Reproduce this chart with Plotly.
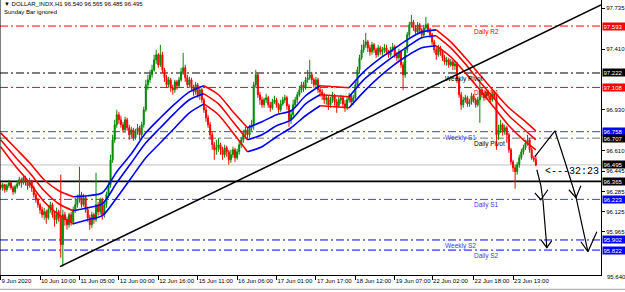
import plotly.graph_objects as go

# ---------------- data (H1 bars, DOLLAR_INDX) ----------------
first_open = 96.339
closes = [
96.315,96.339,96.299,96.331,96.354,96.315,96.283,96.323,96.346,96.378,
96.354,96.394,96.362,96.331,96.370,96.315,96.260,96.220,96.181,96.141,
96.102,96.125,96.078,96.141,96.181,96.102,96.062,96.125,96.078,95.865,
96.102,96.062,96.023,96.102,96.046,96.141,96.181,96.220,96.260,96.181,
96.236,96.141,96.078,96.023,96.102,96.062,96.181,96.125,96.220,96.102,
96.181,96.260,96.339,96.536,96.694,96.813,96.892,96.852,96.813,96.773,
96.852,96.789,96.734,96.773,96.710,96.757,96.789,96.734,96.813,96.931,
97.129,97.168,97.208,97.247,97.326,97.366,97.287,97.366,97.247,97.184,
97.129,97.168,97.105,97.089,97.152,97.121,97.168,97.231,97.263,97.184,
97.129,97.168,97.105,97.073,97.129,97.050,97.089,97.010,96.931,96.868,
96.813,96.734,96.655,96.615,96.631,96.655,96.615,96.576,96.631,96.599,
96.536,96.576,96.615,96.552,96.599,96.655,96.694,96.734,96.773,96.734,
96.789,96.813,97.129,97.208,97.050,97.010,96.971,97.010,97.026,96.971,
96.947,96.994,97.010,96.971,96.931,96.978,97.010,97.026,96.963,96.852,
96.892,96.971,97.010,97.050,97.089,97.129,97.105,97.168,97.184,97.208,
97.168,97.129,97.168,97.089,97.073,97.050,97.010,97.026,96.971,97.010,
97.042,96.994,96.963,97.010,97.026,96.978,96.947,97.010,97.042,96.994,
97.026,97.129,97.247,97.342,97.405,97.445,97.468,97.421,97.389,97.445,
97.405,97.366,97.421,97.389,97.405,97.421,97.389,97.366,97.405,97.429,
97.366,97.342,97.389,97.287,97.208,97.405,97.524,97.603,97.626,97.579,
97.547,97.603,97.563,97.524,97.579,97.603,97.563,97.524,97.468,97.405,
97.366,97.421,97.389,97.342,97.310,97.326,97.287,97.310,97.279,97.294,
97.168,97.050,96.971,97.010,97.026,96.978,96.994,97.042,97.010,96.971,
97.010,97.089,97.050,97.026,97.073,97.042,97.010,97.057,97.034,96.734,
96.773,96.813,96.757,96.789,96.734,96.615,96.520,96.473,96.441,96.497,
96.552,96.599,96.631,96.670,96.694,96.615,96.552,96.540,96.495]
highs = [
96.362,96.354,96.346,96.346,96.378,96.362,96.331,96.339,96.370,96.402,
96.394,96.418,96.410,96.378,96.394,96.378,96.331,96.275,96.236,96.196,
96.165,96.157,96.141,96.173,96.204,96.196,96.125,96.157,96.141,96.418,
96.141,96.125,96.086,96.117,96.125,96.165,96.236,96.260,96.481,96.283,
96.267,96.252,96.165,96.102,96.125,96.117,96.433,96.204,96.236,96.236,
96.196,96.283,96.362,96.576,96.734,96.852,96.931,96.915,96.884,96.836,
96.876,96.868,96.813,96.797,96.789,96.781,96.820,96.805,96.836,96.955,
97.168,97.208,97.247,97.287,97.366,97.405,97.381,97.445,97.389,97.263,
97.208,97.192,97.184,97.129,97.168,97.168,97.192,97.263,97.381,97.287,
97.208,97.192,97.184,97.129,97.152,97.144,97.113,97.105,97.026,96.955,
96.892,96.836,96.757,96.678,96.694,96.710,96.670,96.639,96.655,96.647,
96.615,96.615,96.639,96.631,96.623,96.678,96.718,96.773,96.797,96.797,
96.813,96.852,97.152,97.247,97.223,97.073,97.034,97.026,97.057,97.042,
96.994,97.018,97.042,97.026,96.986,97.010,97.034,97.050,97.042,96.978,
96.931,97.010,97.034,97.073,97.121,97.152,97.152,97.192,97.247,97.326,
97.231,97.184,97.192,97.184,97.121,97.097,97.065,97.050,97.042,97.034,
97.073,97.057,97.018,97.034,97.050,97.042,97.010,97.034,97.065,97.057,
97.050,97.152,97.271,97.366,97.445,97.484,97.539,97.484,97.445,97.468,
97.460,97.421,97.445,97.437,97.429,97.452,97.445,97.405,97.429,97.460,
97.445,97.389,97.413,97.405,97.310,97.429,97.547,97.626,97.681,97.642,
97.603,97.626,97.618,97.579,97.603,97.666,97.618,97.579,97.539,97.484,
97.429,97.445,97.437,97.405,97.366,97.350,97.342,97.334,97.326,97.318,
97.310,97.184,97.073,97.034,97.050,97.042,97.018,97.065,97.057,97.026,
97.034,97.168,97.105,97.073,97.089,97.089,97.057,97.081,97.073,97.050,
96.813,96.852,96.828,96.813,96.805,96.749,96.631,96.536,96.497,96.520,
96.576,96.623,96.655,96.694,96.734,96.710,96.631,96.568,96.565]
lows = [
96.299,96.291,96.275,96.283,96.315,96.299,96.260,96.267,96.307,96.331,
96.315,96.339,96.331,96.299,96.315,96.283,96.236,96.196,96.157,96.109,
96.078,96.062,96.030,96.062,96.117,96.078,96.007,96.030,96.046,95.762,
95.691,96.015,95.983,95.999,96.015,96.023,96.117,96.157,96.196,96.157,
96.165,96.117,96.046,95.983,95.999,96.030,96.046,96.094,96.102,96.062,
96.078,96.157,96.236,96.315,96.512,96.670,96.789,96.820,96.789,96.749,
96.749,96.765,96.694,96.710,96.686,96.694,96.734,96.694,96.710,96.789,
96.915,97.089,97.144,97.184,97.231,97.294,97.263,97.271,97.223,97.152,
97.105,97.105,97.073,97.050,97.065,97.089,97.105,97.152,97.208,97.152,
97.105,97.105,97.073,97.042,97.050,97.026,97.010,96.986,96.907,96.836,
96.789,96.694,96.615,96.536,96.576,96.599,96.576,96.536,96.552,96.560,
96.497,96.512,96.552,96.520,96.536,96.576,96.631,96.670,96.710,96.694,
96.710,96.765,96.773,97.105,97.026,96.971,96.947,96.947,96.986,96.947,
96.915,96.931,96.978,96.947,96.907,96.915,96.963,96.986,96.931,96.797,
96.820,96.876,96.947,96.986,97.034,97.065,97.073,97.089,97.144,97.168,
97.136,97.105,97.105,97.065,97.034,97.010,96.978,96.971,96.931,96.947,
96.986,96.963,96.907,96.947,96.978,96.947,96.915,96.931,96.986,96.963,
96.971,97.010,97.105,97.223,97.326,97.381,97.421,97.389,97.358,97.366,
97.381,97.342,97.350,97.366,97.358,97.381,97.366,97.342,97.350,97.389,
97.342,97.318,97.326,97.263,97.089,97.184,97.381,97.500,97.579,97.555,
97.524,97.531,97.539,97.500,97.508,97.563,97.539,97.500,97.445,97.381,
97.326,97.350,97.358,97.318,97.287,97.279,97.263,97.271,97.247,97.247,
97.144,97.026,96.931,96.947,96.986,96.955,96.955,96.971,96.986,96.947,
96.955,96.828,97.026,97.002,97.010,97.018,96.986,96.994,97.010,96.615,
96.694,96.749,96.726,96.734,96.670,96.591,96.497,96.441,96.307,96.418,
96.473,96.536,96.576,96.615,96.647,96.591,96.536,96.520,96.485]

# x tick labels (bar index -> time)
xtick_idx = [0, 19, 38, 57, 76, 95, 114, 133, 152, 171, 190, 208, 228, 247]
xtick_text = ["9 Jun 2020", "10 Jun 10:00", "11 Jun 05:00", "12 Jun 00:00", "12 Jun 16:00",
              "15 Jun 11:00", "16 Jun 06:00", "17 Jun 01:00", "17 Jun 17:00", "18 Jun 12:00",
              "19 Jun 07:00", "22 Jun 02:00", "22 Jun 18:00", "23 Jun 13:00"]
# price-scale ticks not hidden behind the level boxes
ytick_vals = [97.735, 97.410, 96.930, 96.610, 96.445, 96.285, 96.125, 95.965]

# moving-average ribbon, sampled every 7 bars
ma_idx = [0, 7, 14, 21, 28, 35, 42, 49, 56, 63, 70, 77, 84, 91, 98, 105, 112, 119, 126,
          133, 140, 147, 154, 161, 168, 175, 182, 189, 196, 203, 210, 217, 224, 231, 238,
          245, 252, 258]
ma_top = [96.749, 96.631, 96.512, 96.378, 96.291, 96.244, 96.252, 96.275, 96.441, 96.583,
          96.749, 96.868, 96.978, 97.073, 97.121, 97.050, 96.915, 96.789, 96.836, 96.892,
          96.923, 97.042, 97.121, 97.113, 97.105, 97.231, 97.326, 97.405, 97.484, 97.547,
          97.563, 97.468, 97.342, 97.208, 97.073, 96.947, 96.852, 96.765]
ma_mid = [96.694, 96.560, 96.433, 96.291, 96.188, 96.133, 96.157, 96.188, 96.354, 96.512,
          96.670, 96.789, 96.907, 97.010, 97.057, 96.978, 96.836, 96.694, 96.734, 96.805,
          96.852, 96.978, 97.050, 97.042, 97.034, 97.168, 97.263, 97.350, 97.429, 97.500,
          97.516, 97.421, 97.294, 97.152, 97.018, 96.884, 96.781, 96.694]
ma_low = [96.639, 96.489, 96.354, 96.204, 96.102, 96.030, 96.062, 96.094, 96.236, 96.394,
          96.552, 96.670, 96.789, 96.907, 96.978, 96.892, 96.749, 96.599, 96.639, 96.718,
          96.789, 96.884, 96.963, 96.955, 96.947, 97.073, 97.184, 97.279, 97.358, 97.421,
          97.437, 97.350, 97.223, 97.089, 96.947, 96.805, 96.694, 96.615]

# pivot levels
level_names = ["Daily R2", "Weekly Pivot", "Daily R1", "Weekly S1", "Daily Pivot",
               "Daily S1", "Weekly S2", "Daily S2"]
level_prices = [97.593, 97.222, 97.108, 96.758, 96.707, 96.223, 95.902, 95.822]
support_line = 96.365

# trend line (bar index, price)
trend_x = [28.6, 289.4]
trend_p = [95.691, 97.760]

# hand-drawn projection sketch (bar index, price)
sketch_a_x = [257.5, 267.2, 272.5, 277.3, 280.2, 283.1, 287.4]
sketch_a_p = [96.560, 96.765, 96.497, 96.244, 96.023, 95.809, 95.967]
hook_a_x = [273.9, 277.3, 279.7]
hook_a_p = [96.299, 96.236, 96.331]
tip_a_x = [279.7, 283.1]
tip_a_p = [95.888, 95.809]
sketch_b_x = [258.5, 260.4, 261.4, 262.4, 263.3]
sketch_b_p = [96.457, 96.331, 96.220, 96.023, 95.841]
hook_b_x = [257.5, 260.4, 263.8]
hook_b_p = [96.275, 96.220, 96.299]
tip_b_x = [260.4, 263.3, 265.7]
tip_b_p = [95.904, 95.841, 95.896]

# ---------------- figure ----------------
opens = [first_open] + closes[:-1]
xs = list(range(len(closes)))

RED = "#ff0000"
BLUE = "#0000ff"
GREEN = "#008a00"
FONT = "Liberation Sans"

fig = go.Figure()

level_style = {
    "Daily R2": (RED, RED, "Daily"),
    "Weekly Pivot": ("#000000", "#000000", "Weekly"),
    "Daily R1": (RED, RED, "Daily"),
    "Weekly S1": ("#3a3aff", "#3a3aff", "Weekly"),
    "Daily Pivot": ("#6e6e6e", "#000000", "Daily"),
    "Daily S1": ("#3a3aff", "#3a3aff", "Daily"),
    "Weekly S2": ("#0000ee", "#3a3aff", "Weekly"),
    "Daily S2": ("#0000ee", "#3a3aff", "Daily"),
}
shapes = []
annotations = []
for name, p in zip(level_names, level_prices):
    lc, tc, kind = level_style[name]
    shapes.append(dict(type="line", xref="paper", x0=0, x1=1, yref="y", y0=p, y1=p,
                       line=dict(color=lc, width=1, dash="8px,3px,2px,3px"), layer="below"))
    annotations.append(dict(text=name, x=213.2 if kind == "Weekly" else 227.2, y=p,
                            xref="x", yref="y", xanchor="left", yanchor="top", yshift=0,
                            showarrow=False, font=dict(family=FONT, size=6.5, color=tc)))

# current price line and horizontal support line
shapes.append(dict(type="line", xref="paper", x0=0, x1=1, yref="y", y0=closes[-1], y1=closes[-1],
                   line=dict(color="#c0c0c0", width=1), layer="below"))
shapes.append(dict(type="line", xref="paper", x0=0, x1=1, yref="y", y0=support_line, y1=support_line,
                   line=dict(color="#000000", width=1.6), layer="below"))
# left frame edge and bottom tab strip
shapes.append(dict(type="line", xref="paper", x0=0, x1=0, yref="paper", y0=0, y1=1,
                   line=dict(color="#000000", width=1)))
shapes.append(dict(type="line", xref="paper", x0=0, x1=1.04, yref="paper", y0=-0.052, y1=-0.052,
                   line=dict(color="#a0a0a0", width=1)))

# candles
fig.add_trace(go.Candlestick(
    x=xs, open=opens, high=highs, low=lows, close=closes,
    increasing=dict(line=dict(color=GREEN, width=1), fillcolor=GREEN),
    decreasing=dict(line=dict(color=RED, width=1), fillcolor=RED),
    whiskerwidth=0, showlegend=False, hoverinfo="skip"))

# MA ribbon coloured by direction
def add_ribbon(vals):
    k = 0
    n = len(ma_idx)
    while k < n - 1:
        up = ma_mid[k + 1] >= ma_mid[k]
        j = k
        while j < n - 1 and (ma_mid[j + 1] >= ma_mid[j]) == up:
            j += 1
        fig.add_trace(go.Scatter(x=ma_idx[k:j + 1], y=vals[k:j + 1], mode="lines",
                                 line=dict(color=BLUE if up else RED, width=1.6, shape="spline",
                                           smoothing=0.8),
                                 showlegend=False, hoverinfo="skip"))
        k = j

for arr in (ma_top, ma_mid, ma_low):
    add_ribbon(arr)

# trend line
fig.add_trace(go.Scatter(x=trend_x, y=trend_p, mode="lines",
                         line=dict(color="#000000", width=1.6), showlegend=False, hoverinfo="skip"))

# sketch
for sx, sp in ((sketch_a_x, sketch_a_p), (hook_a_x, hook_a_p), (tip_a_x, tip_a_p),
               (sketch_b_x, sketch_b_p), (hook_b_x, hook_b_p), (tip_b_x, tip_b_p)):
    fig.add_trace(go.Scatter(x=sx, y=sp, mode="lines", line=dict(color="#000000", width=1.2),
                             showlegend=False, hoverinfo="skip", cliponaxis=False))

# right axis price boxes
box_prices = [97.593, 97.222, 97.108, 96.758, 96.707, closes[-1], support_line, 96.223, 95.902, 95.822]
box_colors = [RED, "#000000", RED, BLUE, "#000000", "#000000", "#000000", BLUE, BLUE, BLUE]
for p, c in zip(box_prices, box_colors):
    annotations.append(dict(text=f"{p:.3f}", x=1, xref="paper", y=p, yref="y", xanchor="left",
                            xshift=1, showarrow=False, bgcolor=c, borderpad=0.5, width=21,
                            align="left", font=dict(family=FONT, size=6, color="#ffffff")))
annotations.append(dict(text="95.640", x=1, xref="paper", y=-0.025, yref="paper", xanchor="left",
                        xshift=4, showarrow=False, font=dict(family=FONT, size=6, color="#000000")))

# header text
annotations.append(dict(text=f"\u25bc DOLLAR_INDX,H1 {opens[-1]:.3f} {highs[-1]:.3f} {lows[-1]:.3f} {closes[-1]:.3f}",
                        x=0.004, y=1.0, xref="paper", yref="paper", xanchor="left", yanchor="top",
                        yshift=1, showarrow=False, font=dict(family=FONT, size=6, color="#000000")))
annotations.append(dict(text="Sunday Bar ignored", x=0.004, y=1.0, xref="paper", yref="paper",
                        xanchor="left", yanchor="top", yshift=-7, showarrow=False,
                        font=dict(family=FONT, size=6, color="#000000")))
# bar countdown
annotations.append(dict(text="<---32:23", x=261.5, y=96.441, xref="x", yref="y", xanchor="left",
                        showarrow=False, font=dict(family="Liberation Mono", size=10, color="#000000")))

fig.update_layout(
    width=625, height=292, margin=dict(l=0, r=24, t=0, b=17),
    paper_bgcolor="#ffffff", plot_bgcolor="#ffffff",
    shapes=shapes, annotations=annotations, showlegend=False,
    xaxis=dict(range=[-0.29, 289.4], showgrid=False, zeroline=False, rangeslider=dict(visible=False),
               tickmode="array", tickvals=xtick_idx, ticktext=xtick_text, ticks="outside",
               ticklen=4, tickcolor="#000000", ticklabelposition="outside right", tickangle=0,
               tickfont=dict(family=FONT, size=6, color="#000000"),
               showline=True, linecolor="#000000", linewidth=1),
    yaxis=dict(range=[95.625, 97.799], side="right", showgrid=False, zeroline=False,
               tickmode="array", tickvals=ytick_vals, ticktext=[f"{v:.3f}" for v in ytick_vals],
               ticks="outside", ticklen=3, tickcolor="#000000",
               tickfont=dict(family=FONT, size=6, color="#000000"),
               showline=True, linecolor="#000000", linewidth=1),
)

fig.write_html("out.html")
